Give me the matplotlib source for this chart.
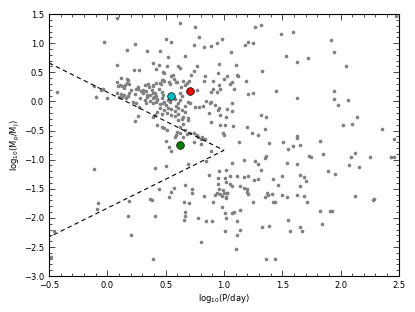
import matplotlib
matplotlib.use("Agg")
import matplotlib.pyplot as plt
from matplotlib.ticker import MultipleLocator

# log10(P/day), log10(Mp/MJ) of the background planets
logp = [
    0.08, -0.03, 0.24, 0.17, 0.08, 0.23, 0.27, 0.62, 0.75, 0.79, 0.50, 0.55, 0.74, 0.83, 0.89,
    0.94, 0.98, 1.06, 1.18, 1.21, 1.25, 1.27, 1.32, 0.34, 0.45, 0.52, 0.67, 0.39, 0.44, 0.51,
    0.61, 0.62, 0.77, 0.96, 1.10, 0.42, 0.48, 0.49, 0.74, 0.72, 1.49, 1.59, 1.92, 1.94, 1.53,
    1.63, 1.72, 2.05, 2.48,
    0.12, 0.17, 0.18, 0.08, 0.11, 0.13, 0.15, 0.17, 0.19, -0.43, -0.10, -0.05, 0.00, 0.08, 0.12,
    0.14, 0.18, 0.20, 0.24, 0.26, 0.10, 0.13, 0.16, 0.56, 0.84, 0.95, 1.03, 1.11, 1.12, 1.33,
    0.47, 0.48, 0.49, 0.45, 0.46, 0.53, 0.54, 0.57, 0.60, 0.59, 0.65, 0.70, 0.68, 0.83, 0.91,
    1.00, 1.07, 1.19, 0.77, 0.89, 0.91, 0.96, 1.05, 1.09, 1.21, 1.25, 0.36, 0.39, 0.31, 0.33,
    0.25, 1.45, 1.94, 1.63, 1.94, 2.06, 0.26, 0.32, 0.35, 0.39, 0.42, -0.11, -0.04, 0.09, 0.14,
    0.19, 0.29, 0.31, 0.34, 0.38, 0.41, 0.44, 0.47, 0.48, 0.28, 0.32, 0.40, 0.43, 0.47, 0.49,
    0.67, 0.63, 0.94, 0.97, 0.39, 0.62, 0.64, 0.55,
    0.22, 0.25, 0.27, 0.69, 0.71, 0.79, 0.82, 0.85, 0.88, 0.92, 0.96, 1.03, 1.07, 1.98, 0.24,
    0.26, 0.33, 0.75, 0.87, 0.95, 0.97, 1.07, 1.32, 1.36, 2.14, 0.89,
    0.34, 0.37, 0.39, 0.42, 0.43, 0.37, 0.39, 0.42, 0.45, 0.48, 0.50, 0.52, 0.54, 0.58, 0.61,
    0.62, 0.59, 0.45, 0.49, 0.52, 0.55, 0.58, 0.61, 0.64, 0.67, 0.43, 0.47, 0.51, 0.55, 0.58,
    0.61, 0.65, 0.67, 0.69, 0.41, 0.39, 0.43, 0.47, 0.49, 0.51, 0.61, 0.64, 0.69, 0.65, 0.62,
    0.60, 0.59, 0.58, 0.62, 0.67, 0.68, 0.65, 0.71, 0.74, 0.78, 0.77, 0.81, 0.84, 0.50, 0.53,
    0.55, 0.74, 0.80, 0.80,
    0.89, 0.97, 1.01, 1.02, 1.08, 1.20, 1.00, 0.99, 1.24, 1.29, 1.35, 0.89, 1.13, 1.39, 1.36,
    1.17, 1.27, 1.29, 0.85, 1.07, 0.69, 0.50, 0.41, 0.96, 1.02, 0.87, 0.95, 1.01, 1.05, 1.11,
    1.17, 1.21, 1.26, 1.29, 0.95, 1.02, 1.05, 1.07, 1.14, 1.17, 1.20, 1.20, 1.21, 0.96, 0.99,
    1.03, 0.97, 0.57, 0.55, 0.67, 0.73, 0.83, 0.92, 1.02, 1.37, 0.44, 0.53, 0.37,
    2.02, 2.10, 2.36, 1.51, 1.55, 1.59, 1.63, 1.63, 1.65, 1.82, 2.46, 1.35, 1.73, 1.75, 1.85,
    2.12, 2.09, 2.25, 2.43, 2.46, 1.54, 1.63, 2.07, 2.16, 1.32, 1.89, 1.95, 1.42, 1.50, 1.65,
    1.69, 1.70, 1.46, 1.65, 1.35, 1.38, 1.41, 1.50, 1.54, 1.63, 1.69, 2.12, 2.29,
    -0.08, -0.09, 0.19, 0.18, 0.20, -0.46, -0.48, -0.11,
    0.38, 0.41, 0.39, 0.66, 0.70, 0.73, 0.67, 0.67, 0.66, 0.78, 0.85, 0.90, 0.80, 0.91, 0.94,
    1.00, 1.03, 0.98, 1.02, 0.98, 1.01, 1.02, 1.07, 1.09, 1.14, 1.11, 1.01, 1.14, 1.11, 1.10,
    1.25, 1.33, 1.36, 1.39,
    1.42, 1.44, 1.71, 2.28, 1.82, 1.91, 1.93, 1.55, 1.84, 1.57, 1.65, 1.67, 1.44,
]
logm = [
    1.44, 1.02, 0.98, 0.89, 0.62, 0.54, 0.54, 1.34, 1.28, 1.11, 1.07, 1.02, 0.97, 0.93, 0.95,
    1.01, 1.07, 0.84, 0.97, 1.02, 1.01, 1.27, 1.31, 0.87, 0.86, 0.77, 0.78, 0.66, 0.62, 0.61,
    0.61, 0.58, 0.61, 0.64, 0.62, 0.55, 0.51, 0.49, 0.53, 0.46, 1.15, 1.20, 1.05, 0.84, 0.78,
    0.68, 0.74, 0.60, 1.47,
    0.41, 0.39, 0.36, 0.33, 0.29, 0.27, 0.28, 0.31, 0.30, 0.16, 0.07, 0.19, 0.06, 0.15, 0.12,
    0.11, 0.10, 0.19, 0.13, 0.22, 0.08, 0.07, 0.06, 0.46, 0.43, 0.48, 0.43, 0.46, 0.43, 0.52,
    0.36, 0.37, 0.35, 0.32, 0.30, 0.33, 0.30, 0.39, 0.34, 0.33, 0.35, 0.35, 0.31, 0.35, 0.35,
    0.38, 0.33, 0.35, 0.19, 0.16, 0.21, 0.29, 0.30, 0.21, 0.13, 0.14, 0.25, 0.26, 0.19, 0.18,
    0.21, 0.18, 0.17, 0.05, 0.04, 0.02, 0.25, 0.28, 0.30, 0.28, 0.31, 0.27, 0.22, 0.27, 0.23,
    0.14, 0.18, 0.14, 0.11, 0.19, 0.15, 0.21, 0.16, 0.11, 0.05, 0.03, 0.08, 0.02, 0.05, -0.01,
    0.28, 0.25, 0.16, 0.21, 0.14, 0.14, 0.09, 0.43,
    -0.01, -0.03, -0.09, -0.01, -0.03, -0.09, -0.08, 0.00, -0.03, -0.07, -0.12, -0.13, -0.03, -0.07, -0.33,
    -0.25, -0.03, -0.10, -0.20, -0.15, -0.23, -0.16, -0.24, -0.27, -0.27, -0.01,
    0.07, 0.11, 0.06, 0.09, 0.04, 0.01, -0.03, -0.01, -0.05, -0.03, -0.06, 0.02, -0.01, 0.04, -0.03,
    0.02, -0.08, -0.12, -0.15, -0.12, -0.13, -0.17, -0.12, -0.15, -0.08, -0.18, -0.22, -0.20, -0.24, -0.25,
    -0.22, -0.27, -0.18, -0.29, -0.24, -0.27, -0.41, -0.44, -0.46, -0.49, -0.32, -0.31, -0.32, -0.38, -0.44,
    -0.52, -0.58, -0.61, -0.55, -0.49, -0.56, -0.61, -0.55, -0.55, -0.61, -0.58, -0.61, -0.64, -0.68, -0.79,
    -0.86, -0.70, -0.74, -0.65,
    -0.36, -0.41, -0.41, -0.27, -0.42, -0.44, -0.57, -0.55, -0.55, -0.57, -0.48, -0.85, -0.69, -0.71, -0.94,
    -1.01, -1.03, -1.07, -1.03, -1.05, -1.08, -1.11, -1.15, -1.19, -1.17, -1.27, -1.31, -1.31, -1.28, -1.28,
    -1.30, -1.28, -1.35, -1.34, -1.41, -1.38, -1.42, -1.46, -1.46, -1.48, -1.51, -1.55, -1.59, -1.51, -1.52,
    -1.57, -1.59, -1.48, -1.56, -1.44, -1.50, -1.62, -1.61, -1.65, -1.57, -1.51, -1.65, -1.67,
    -0.41, -0.38, -0.48, -0.69, -0.81, -0.76, -0.60, -0.63, -0.75, -0.68, -0.65, -0.98, -0.93, -0.95, -0.91,
    -0.89, -0.95, -0.95, -0.96, -0.95, -1.05, -1.07, -1.10, -1.13, -1.18, -1.20, -1.25, -1.33, -1.28, -1.27,
    -1.30, -1.37, -1.44, -1.46, -1.64, -1.60, -1.59, -1.60, -1.64, -1.60, -1.62, -1.62, -1.68,
    -1.75, -1.84, -1.71, -1.96, -2.29, -2.22, -2.68, -1.16,
    -1.70, -1.96, -2.70, -1.73, -1.75, -1.58, -1.90, -1.96, -2.04, -2.00, -2.05, -2.05, -2.41, -1.73, -1.57,
    -1.57, -1.58, -1.63, -1.66, -1.82, -1.92, -2.01, -1.92, -1.90, -1.86, -2.05, -2.22, -2.21, -2.30, -2.53,
    -1.73, -2.15, -2.70, -2.14,
    -1.72, -1.72, -1.73, -1.70, -1.89, -1.89, -1.89, -2.04, -2.10, -2.22, -2.15, -2.22, -2.70,
]

# highlighted planets
hl_p = [0.55, 0.71, 0.62]
hl_m = [0.09, 0.18, -0.75]
hl_colors = ["c", "r", "g"]

# dashed boundary (wedge)
wedge_p = [-0.5, 1.0, -0.5]
wedge_m = [0.66, -0.84, -2.33]

plt.rcParams.update({
    "font.family": "DejaVu Sans",
    "font.size": 6,
    "mathtext.default": "regular",
})

fig = plt.figure(figsize=(4.15, 3.12), dpi=100)
ax = fig.add_axes([0.118, 0.115, 0.843, 0.84])

ax.plot(logp, logm, "o", color="#808080", mew=0, ms=2.6, ls="none")
ax.plot(wedge_p, wedge_m, "k--", lw=0.8, dashes=(4, 3))
for p, m, c in zip(hl_p, hl_m, hl_colors):
    ax.plot(p, m, "o", color=c, mec="k", mew=0.5, ms=5.5)

ax.set_xlim(-0.5, 2.5)
ax.set_ylim(-3.0, 1.5)
ax.xaxis.set_major_locator(MultipleLocator(0.5))
ax.yaxis.set_major_locator(MultipleLocator(0.5))
ax.xaxis.set_minor_locator(MultipleLocator(0.1))
ax.yaxis.set_minor_locator(MultipleLocator(0.1))
ax.tick_params(which="both", direction="in", top=True, right=True, width=0.5, labelsize=6)
ax.tick_params(which="major", length=4)
ax.tick_params(which="minor", length=2)
for s in ax.spines.values():
    s.set_linewidth(0.8)

ax.set_xlabel(r"log$_{10}$(P/day)", fontsize=6, labelpad=1.5)
ax.set_ylabel(r"log$_{10}$(M$_p$/M$_J$)", fontsize=6, labelpad=1.5)

fig.savefig("out.png", dpi=100, facecolor="white")
